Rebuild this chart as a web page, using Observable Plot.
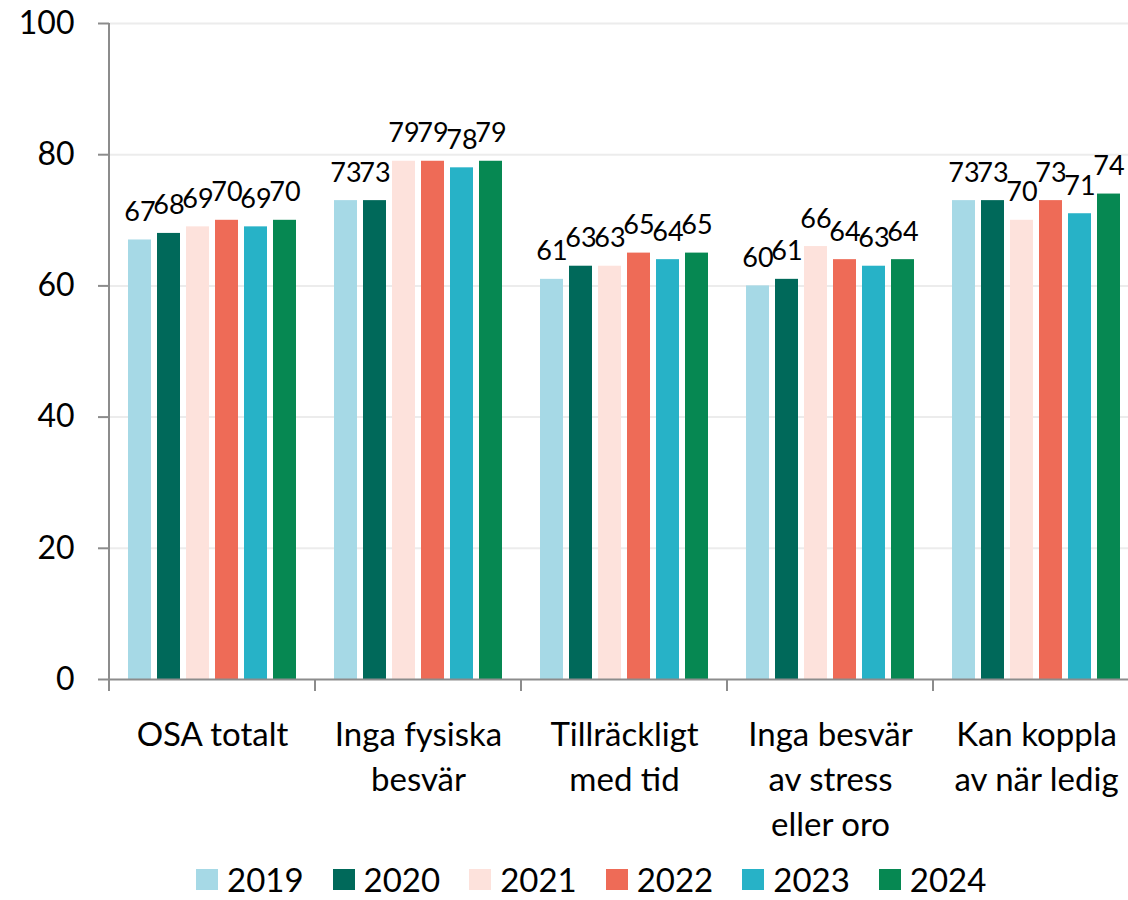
<!DOCTYPE html>
<html>
<head>
<meta charset="utf-8">
<script src="https://cdn.jsdelivr.net/npm/d3@7"></script>
<script src="https://cdn.jsdelivr.net/npm/@observablehq/plot@0.6"></script>
<style>
  html, body { margin: 0; padding: 0; background: #fff; overflow: hidden; width: 1128px; }
  #chart { width: 1128px; overflow: hidden; }
  #chart svg { display: block; max-width: none !important; width: 1139px; height: 860px; }
  .legend { display: flex; align-items: center; padding-left: 196px; gap: 29px; margin-top: 0;
            font-family: Lato, sans-serif; font-size: 33px; color: #000; line-height: 39px; height: 39px; }
  .legend .item { display: flex; align-items: center; gap: 9px; }
  .legend .sw { width: 22px; height: 21px; display: inline-block; }
</style>
</head>
<body>
<div id="chart"></div>
<div class="legend" id="legend"></div>
<script>
const categories = ["OSA totalt", "Inga fysiska besvär", "Tillräckligt med tid", "Inga besvär av stress eller oro", "Kan koppla av när ledig"];
const categoryLabels = ["OSA totalt", "Inga fysiska\nbesvär", "Tillräckligt\nmed tid", "Inga besvär\nav stress\neller oro", "Kan koppla\nav när ledig"];
const years = ["2019", "2020", "2021", "2022", "2023", "2024"];
const colors = ["#a6d9e6", "#00695a", "#fde2dc", "#ee6b57", "#27b2c7", "#068852"];
const v2019 = [67, 73, 61, 60, 73];
const v2020 = [68, 73, 63, 61, 73];
const v2021 = [69, 79, 63, 66, 70];
const v2022 = [70, 79, 65, 64, 73];
const v2023 = [69, 78, 64, 63, 71];
const v2024 = [70, 79, 65, 64, 74];
const yTicks = [0, 20, 40, 60, 80, 100];

const series = [v2019, v2020, v2021, v2022, v2023, v2024];
const data = [];
categories.forEach((c, i) => {
  years.forEach((y, j) => data.push({cat: c, year: y, value: series[j][i]}));
});
const labelMap = Object.fromEntries(categories.map((c, i) => [c, categoryLabels[i]]));

const chart = Plot.plot({
  width: 1139,
  height: 860,
  marginLeft: 109,
  marginRight: 0,
  marginTop: 23,
  marginBottom: 181,
  style: {fontFamily: "Lato, sans-serif", fontSize: "30px", color: "#000", background: "#fff"},
  fx: {domain: categories, padding: 0, label: null},
  x: {domain: years, paddingInner: 0.22, paddingOuter: 0.61, axis: null},
  y: {domain: [0, 100], label: null},
  color: {domain: years, range: colors},
  marks: [
    Plot.gridY(yTicks.slice(1), {stroke: "#ececec", strokeOpacity: 1, strokeWidth: 2}),
    Plot.barY(data, {fx: "cat", x: "year", y: "value", fill: "year"}),
    Plot.text(data, {fx: "cat", x: "year", y: "value", text: d => String(d.value),
      lineAnchor: "bottom", dy: -19, fontSize: 27, fill: "#000"}),
    Plot.ruleY([0], {stroke: "#8c8c8c", strokeWidth: 2}),
    Plot.axisY(yTicks, {tickSize: 11, tickPadding: 24, fontSize: 32, stroke: "#8c8c8c", strokeWidth: 2, fill: "#000", label: null}),
    Plot.axisFx({anchor: "bottom", tickSize: 0, tickPadding: 35, fontSize: 33, lineHeight: 1.36,
      tickFormat: c => labelMap[c], label: null, fill: "#000"})
  ]
});
document.getElementById("chart").appendChild(chart);

// axis line and category boundary ticks drawn from the plot's own scales
const ys = chart.scale("y");
const fxs = chart.scale("fx");
const yOf = v => ys.apply ? ys.apply(v) : 23 + (100 - v) * 6.56;
const y0 = yOf(0), y100 = yOf(100);
const [r0, r1] = fxs.range;
const step = (r1 - r0) / categories.length;
const svg = d3.select(chart);
const g = svg.append("g").attr("stroke", "#8c8c8c").attr("stroke-width", 2);
g.append("line").attr("x1", r0).attr("x2", r0).attr("y1", y100).attr("y2", y0 + 12);
for (let i = 0; i <= categories.length; i++) {
  const x = r0 + i * step;
  g.append("line").attr("x1", x).attr("x2", x).attr("y1", y0).attr("y2", y0 + 12);
}

const legend = document.getElementById("legend");
years.forEach((y, i) => {
  const item = document.createElement("div");
  item.className = "item";
  item.innerHTML = `<span class="sw" style="background:${colors[i]}"></span><span>${y}</span>`;
  legend.appendChild(item);
});
</script>
</body>
</html>
